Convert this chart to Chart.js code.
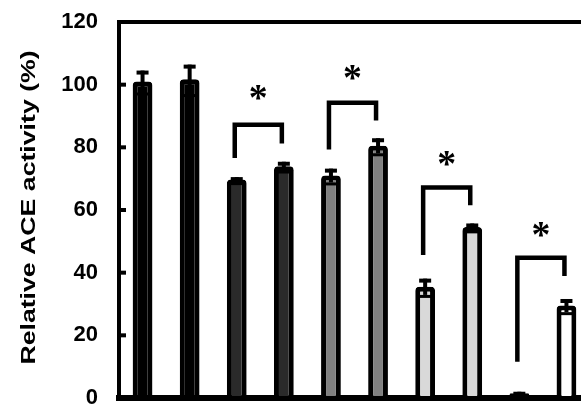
<!DOCTYPE html>
<html>
<head>
<meta charset="utf-8">
<script src="https://cdn.jsdelivr.net/npm/chart.js@4.4.1/dist/chart.umd.min.js"></script>
<style>
  html, body { margin: 0; padding: 0; background: #fff; }
  #wrap { width: 581px; height: 405px; overflow: hidden; position: relative; background: #fff; }
  canvas { display: block; }
</style>
</head>
<body>
<div id="wrap"><canvas id="c" width="600" height="420"></canvas></div>
<script>
// Relative ACE activity for ten samples, drawn as five pairs
const categories = ['1', '2', '3', '4', '5', '6', '7', '8', '9', '10'];
const activity = [101, 101.7, 69.7, 74, 71, 80.5, 35.5, 54.6, 1.5, 29.5];
const activityErr = [3.5, 4.7, 0.8, 1.4, 2.2, 2.4, 2.6, 1.1, 0.5, 2.1];
const yTicks = [0, 20, 40, 60, 80, 100, 120];
const axisTitle = 'Relative ACE activity (%)';

// Significance brackets: which bars they join and the levels of their parts
const bracketPairs = [[2, 3], [4, 5], [6, 7], [8, 9]];
const bracketLeftEnd = [76.6, 79.3, 45.6, 11.6];
const bracketRightEnd = [81.2, 88.6, 61.5, 38.9];
const bracketTop = [87.2, 94.2, 67.2, 44.8];
const starLevel = [97.5, 104, 76.4, 53.8];
const starLabel = '*';

// Bar fills, pair by pair
const fills = ['#000000', '#000000', '#2a2a2a', '#2a2a2a', '#808080', '#808080',
               '#d9d9d9', '#d9d9d9', '#ffffff', '#ffffff'];

const FONT = '"Liberation Sans", Arial, sans-serif';
const STAR_FONT = '"Liberation Serif", "Times New Roman", serif';

const errorBars = {
  id: 'errorBars',
  afterDatasetsDraw(chart) {
    const { ctx, scales: { y } } = chart;
    const meta = chart.getDatasetMeta(0);
    ctx.save();
    ctx.strokeStyle = '#000';
    ctx.fillStyle = '#000';
    meta.data.forEach((bar, i) => {
      const x = bar.x;
      const top = y.getPixelForValue(activity[i] + activityErr[i]);
      const bot = y.getPixelForValue(activity[i] - activityErr[i]);
      ctx.lineWidth = 4;
      ctx.beginPath();
      ctx.moveTo(x, top);
      ctx.lineTo(x, bot);
      ctx.stroke();
      ctx.fillRect(x - 6, top, 12, 4);
      ctx.fillRect(x - 6, bot, 12, 3);
    });
    ctx.restore();
  }
};

const innerTicks = {
  id: 'innerTicks',
  afterDatasetsDraw(chart) {
    const { ctx, chartArea, scales: { y } } = chart;
    ctx.save();
    ctx.fillStyle = '#000';
    yTicks.forEach(v => {
      if (v === 0 || v === 120) return;
      const py = y.getPixelForValue(v);
      ctx.fillRect(chartArea.left, py - 2, 7, 4);
    });
    ctx.restore();
  }
};

const brackets = {
  id: 'brackets',
  afterDatasetsDraw(chart) {
    const { ctx, scales: { y } } = chart;
    const meta = chart.getDatasetMeta(0);
    ctx.save();
    ctx.strokeStyle = '#000';
    ctx.fillStyle = '#000';
    ctx.lineWidth = 4.5;
    ctx.lineJoin = 'miter';
    ctx.lineCap = 'butt';
    bracketPairs.forEach((pair, k) => {
      const xl = meta.data[pair[0]].x - 2;
      const xr = meta.data[pair[1]].x - 2;
      const yt = y.getPixelForValue(bracketTop[k]);
      ctx.beginPath();
      ctx.moveTo(xl, y.getPixelForValue(bracketLeftEnd[k]));
      ctx.lineTo(xl, yt);
      ctx.lineTo(xr, yt);
      ctx.lineTo(xr, y.getPixelForValue(bracketRightEnd[k]));
      ctx.stroke();

      // star centred above the bracket
      ctx.font = 'bold 40px ' + STAR_FONT;
      let m = ctx.measureText(starLabel);
      const ink = m.actualBoundingBoxLeft + m.actualBoundingBoxRight;
      const size = 40 * 17 / ink;
      ctx.font = 'bold ' + size.toFixed(2) + 'px ' + STAR_FONT;
      m = ctx.measureText(starLabel);
      const cx = (xl + xr) / 2;
      const cy = y.getPixelForValue(starLevel[k]);
      ctx.textAlign = 'left';
      ctx.textBaseline = 'alphabetic';
      const dx = cx - (m.actualBoundingBoxRight - m.actualBoundingBoxLeft) / 2;
      const dy = cy + (m.actualBoundingBoxAscent - m.actualBoundingBoxDescent) / 2;
      ctx.fillText(starLabel, dx, dy);
    });
    ctx.restore();
  }
};

const yTitle = {
  id: 'yTitle',
  afterDraw(chart) {
    const { ctx } = chart;
    ctx.save();
    ctx.translate(35, 207.5);
    ctx.rotate(-Math.PI / 2);
    ctx.scale(1.27, 1);
    ctx.font = 'bold 21px ' + FONT;
    ctx.fillStyle = '#000';
    ctx.textAlign = 'center';
    ctx.textBaseline = 'alphabetic';
    ctx.fillText(axisTitle, 0, 0);
    ctx.restore();
  }
};

new Chart(document.getElementById('c'), {
  type: 'bar',
  data: {
    labels: categories,
    datasets: [{
      data: activity,
      backgroundColor: fills,
      borderColor: '#000',
      borderWidth: 5,
      borderRadius: { topLeft: 4, topRight: 4, bottomLeft: 0, bottomRight: 0 },
      borderSkipped: 'start',
      barPercentage: 0.42,
      categoryPercentage: 1
    }]
  },
  options: {
    responsive: false,
    devicePixelRatio: 1,
    animation: false,
    layout: { padding: { left: 0, top: 22, right: 10, bottom: 22 } },
    plugins: { legend: { display: false }, tooltip: { enabled: false } },
    scales: {
      x: {
        offset: true,
        grid: { display: false },
        ticks: { display: false },
        border: { display: true, color: '#000', width: 6 },
        afterFit(scale) {
          scale.height = 0;
          scale.paddingLeft = 0;
          scale.paddingRight = 0;
        }
      },
      y: {
        min: 0,
        max: 120,
        afterBuildTicks(scale) { scale.ticks = yTicks.map(v => ({ value: v })); },
        ticks: {
          padding: 21,
          color: '#000',
          font: { family: FONT, size: 22, weight: 'bold' }
        },
        grid: {
          drawTicks: false,
          lineWidth: 4,
          color: c => (c.tick && c.tick.value === 120 ? '#000' : 'rgba(0,0,0,0)')
        },
        border: { display: true, color: '#000', width: 4 },
        afterFit(scale) {
          scale.width = 119;
          scale.paddingTop = 0;
          scale.paddingBottom = 0;
        }
      }
    }
  },
  plugins: [errorBars, innerTicks, brackets, yTitle]
});
</script>
</body>
</html>
